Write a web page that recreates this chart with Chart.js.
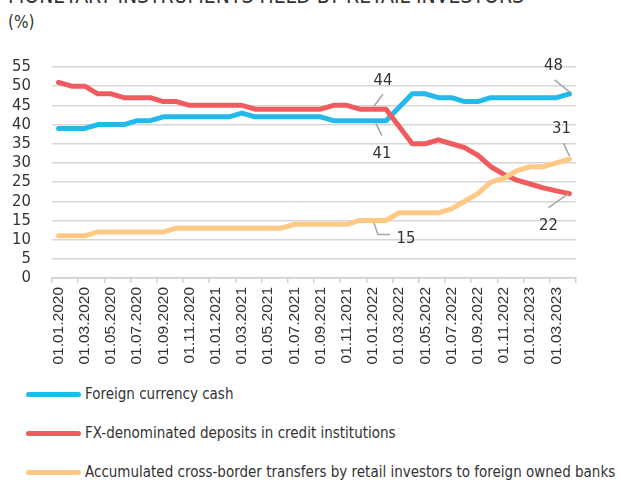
<!DOCTYPE html>
<html>
<head>
<meta charset="utf-8">
<script src="https://cdn.jsdelivr.net/npm/chart.js@4.4.0/dist/chart.umd.min.js"></script>
<style>
  body { margin: 0; background: #fff; width: 621px; height: 480px; overflow: hidden; position: relative;
         font-family: "DejaVu Sans Condensed", sans-serif; color: #333; }
  #title { position: absolute; left: 8px; top: -14px; font-size: 21px; line-height: 20px; white-space: nowrap; }
  #unit { position: absolute; left: 8px; top: 12px; font-size: 17px; line-height: 20px; }
  #wrap { position: absolute; left: 0; top: 0; width: 621px; height: 380px; }
  #legend { position: absolute; left: 26px; top: 383px; }
  .item { display: flex; align-items: center; height: 22px; margin-bottom: 17px; font-size: 15px; white-space: nowrap; }
  .swatch { width: 55px; height: 5px; border-radius: 3px; margin-right: 4px; }
</style>
</head>
<body>
<div id="title">MONETARY INSTRUMENTS HELD BY RETAIL INVESTORS</div>
<div id="unit">(%)</div>
<div id="wrap"><canvas id="lineChart"></canvas></div>
<div id="legend"></div>
<script>
// monthly observations, Jan 2020 - Apr 2023
const months = [
  '01.01.2020', '01.02.2020', '01.03.2020', '01.04.2020', '01.05.2020', '01.06.2020',
  '01.07.2020', '01.08.2020', '01.09.2020', '01.10.2020', '01.11.2020', '01.12.2020',
  '01.01.2021', '01.02.2021', '01.03.2021', '01.04.2021', '01.05.2021', '01.06.2021',
  '01.07.2021', '01.08.2021', '01.09.2021', '01.10.2021', '01.11.2021', '01.12.2021',
  '01.01.2022', '01.02.2022', '01.03.2022', '01.04.2022', '01.05.2022', '01.06.2022',
  '01.07.2022', '01.08.2022', '01.09.2022', '01.10.2022', '01.11.2022', '01.12.2022',
  '01.01.2023', '01.02.2023', '01.03.2023', '01.04.2023'
];
const fxCash = [
  39, 39, 39, 40, 40, 40, 41, 41, 42, 42, 42, 42,
  42, 42, 43, 42, 42, 42, 42, 42, 42, 41, 41, 41,
  41, 41, 44.5, 48, 48, 47, 47, 46, 46, 47, 47, 47,
  47, 47, 47, 48
];
const fxDeposits = [
  51, 50, 50, 48, 48, 47, 47, 47, 46, 46, 45, 45,
  45, 45, 45, 44, 44, 44, 44, 44, 44, 45, 45, 44,
  44, 44, 39.5, 35, 35, 36, 35, 34, 32, 29, 27, 25.5,
  24.5, 23.5, 22.7, 22
];
const transfers = [
  11, 11, 11, 12, 12, 12, 12, 12, 12, 13, 13, 13,
  13, 13, 13, 13, 13, 13, 14, 14, 14, 14, 14, 15,
  15, 15, 17, 17, 17, 17, 18, 20, 22, 25, 26, 28,
  29, 29, 30, 31
];
const yTicks = [0, 5, 10, 15, 20, 25, 30, 35, 40, 45, 50, 55];

const seriesNames = [
  'Foreign currency cash',
  'FX-denominated deposits in credit institutions',
  'Accumulated cross-border transfers by retail investors to foreign owned banks'
];
const seriesColors = ['#22baeb', '#ef5b5f', '#ffc985'];

const condensed = '"DejaVu Sans Condensed", sans-serif';

// value labels with leader lines: dataset, point index, text offset, optional elbow
const callouts = [
  { ds: 1, i: 24, dx: 10, dy: -28, from: [1, -3], to: [10, -15] },
  { ds: 0, i: 24, dx: 9, dy: 33, from: [3, 3], to: [9, 15] },
  { ds: 2, i: 24, dx: 33, dy: 18, from: [1, 2], to: [5, 14], elbow: [17, 14] },
  { ds: 0, i: 39, dx: -16, dy: -28, from: [0, -2], to: [-15, -14] },
  { ds: 2, i: 39, dx: -8, dy: -30, from: [0, -3], to: [-6, -16] },
  { ds: 1, i: 39, dx: -21, dy: 32, from: [-1, 0], to: [-21, 14] }
];

const calloutPlugin = {
  id: 'callouts',
  afterDatasetsDraw(chart) {
    const { ctx, scales: { x, y } } = chart;
    ctx.save();
    ctx.strokeStyle = '#a6a6a6';
    ctx.lineWidth = 1.5;
    ctx.fillStyle = '#333';
    ctx.font = '16.5px ' + condensed;
    ctx.textAlign = 'center';
    ctx.textBaseline = 'middle';
    callouts.forEach(c => {
      const v = chart.data.datasets[c.ds].data[c.i];
      const px = x.getPixelForValue(c.i);
      const py = y.getPixelForValue(v);
      ctx.beginPath();
      ctx.moveTo(px + c.from[0], py + c.from[1]);
      ctx.lineTo(px + c.to[0], py + c.to[1]);
      if (c.elbow) ctx.lineTo(px + c.elbow[0], py + c.elbow[1]);
      ctx.stroke();
      ctx.fillText(String(Math.round(v)), px + c.dx, py + c.dy);
    });
    ctx.restore();
  }
};

const lineChart = new Chart(document.getElementById('lineChart'), {
  type: 'line',
  data: {
    labels: months,
    datasets: [fxCash, fxDeposits, transfers].map((d, k) => ({
      label: seriesNames[k],
      data: d,
      borderColor: seriesColors[k],
      backgroundColor: seriesColors[k],
      borderWidth: 5,
      borderCapStyle: 'round',
      borderJoinStyle: 'round',
      pointRadius: 0,
      tension: 0,
      order: 3 - k // orange on top, blue underneath
    }))
  },
  options: {
    responsive: true,
    maintainAspectRatio: false,
    animation: false,
    layout: { padding: { left: 0, top: 67, right: 45, bottom: 0 } },
    plugins: {
      legend: { display: false },
      tooltip: { enabled: false }
    },
    scales: {
      x: {
        type: 'category',
        offset: true,
        grid: {
          offset: true,
          drawOnChartArea: false,
          tickLength: 5,
          lineWidth: 1.5,
          // tick marks only at every second month boundary
          color: c => (c.type !== 'tick' || c.index % 2 === 0) ? '#d0d0d0' : 'rgba(0,0,0,0)'
        },
        border: { color: '#d0d0d0', width: 1.5 },
        ticks: {
          autoSkip: false,
          minRotation: 90,
          maxRotation: 90,
          padding: 4,
          color: '#333',
          font: { family: '"Liberation Sans", Arial, sans-serif', size: 15.5 },
          callback: (val, i) => i % 2 === 0 ? months[i] : ''
        },
        afterFit: s => { s.height = 102; }
      },
      y: {
        min: 0,
        max: 55,
        afterBuildTicks: s => { s.ticks = yTicks.map(v => ({ value: v })); },
        grid: { color: '#d6d6d6', lineWidth: 1.5, drawTicks: false },
        border: { display: false },
        ticks: {
          autoSkip: false,
          padding: 21,
          color: '#333',
          font: { family: condensed, size: 16.5 }
        },
        afterFit: s => { s.width = 52; }
      }
    }
  },
  plugins: [calloutPlugin]
});

// legend rows, one per series
const legend = document.getElementById('legend');
seriesNames.forEach((name, k) => {
  const row = document.createElement('div');
  row.className = 'item';
  row.innerHTML = '<span class="swatch" style="background:' + seriesColors[k] + '"></span><span>' + name + '</span>';
  legend.appendChild(row);
});
</script>
</body>
</html>
